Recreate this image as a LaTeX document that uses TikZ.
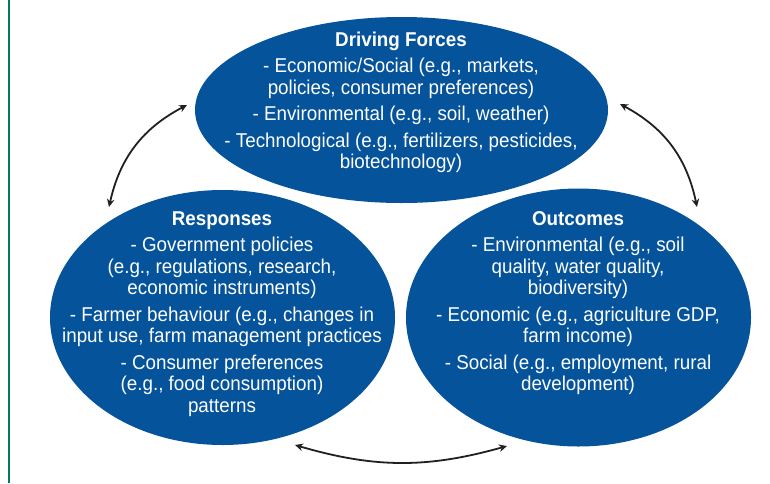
\documentclass[tikz,border=0pt]{standalone}
\usepackage{fontspec}
\setmainfont[FakeStretch=0.94]{Liberation Sans}
\usetikzlibrary{shapes.geometric,arrows.meta}
\definecolor{ellblue}{RGB}{4,83,155}
\definecolor{rulegreen}{RGB}{0,122,94}
\definecolor{arrowgray}{RGB}{35,31,32}
\tikzset{
  blob/.style={ellipse, fill=ellblue, draw=none, inner sep=0pt},
  blobtext/.style={text=white, align=center, inner sep=0pt,
    font=\fontsize{20}{21.5}\selectfont},
  arr/.style={draw=arrowgray, line width=1.8pt,
    {Stealth[length=8pt,width=7.5pt]}-{Stealth[length=8pt,width=7.5pt]}}
}
\begin{document}
\begin{tikzpicture}[x=1pt,y=-1pt]
\useasboundingbox (0,0) rectangle (770,483);
\fill[white] (0,0) rectangle (770,483);
\draw[rulegreen, line width=2.5pt] (9,0) -- (9,483);

\node[blob, minimum width=413pt, minimum height=186pt] (drive) at (401.5,110) {};
\node[blob, minimum width=345pt, minimum height=255pt] (resp) at (222.5,317.5) {};
\node[blob, minimum width=345pt, minimum height=258pt] (outc) at (578.5,317.5) {};

\node[blobtext] (driveT) at (401,102.5) {\textbf{Driving Forces}\\[5pt]
- Economic/Social (e.g., markets,\\
policies, consumer preferences)\\[5pt]
- Environmental (e.g., soil, weather)\\[5pt]
- Technological (e.g., fertilizers, pesticides,\\
biotechnology)};

\node[blobtext] (respT) at (222,314) {\textbf{Responses}\\[5pt]
- Government policies\\
(e.g., regulations, research,\\
economic instruments)\\[5pt]
- Farmer behaviour (e.g., changes in\\
input use, farm management practices\\[5pt]
- Consumer preferences\\
(e.g., food consumption)\\
patterns};

\node[blobtext] (outcT) at (578,303) {\textbf{Outcomes}\\[5pt]
- Environmental (e.g., soil\\
quality, water quality,\\
biodiversity)\\[5pt]
- Economic (e.g., agriculture GDP,\\
farm income)\\[5pt]
- Social (e.g., employment, rural\\
development)};

\coordinate (a1s) at (109,207);
\coordinate (a1e) at (187,105);
\coordinate (a2s) at (620,104);
\coordinate (a2e) at (697,207);
\coordinate (a3s) at (295,445);
\coordinate (a3e) at (507,446);

\draw[arr] (a1s) to[bend left=25] (a1e);
\draw[arr] (a2s) to[bend left=25] (a2e);
\draw[arr] (a3s) to[bend right=16] (a3e);
\end{tikzpicture}
\end{document}
